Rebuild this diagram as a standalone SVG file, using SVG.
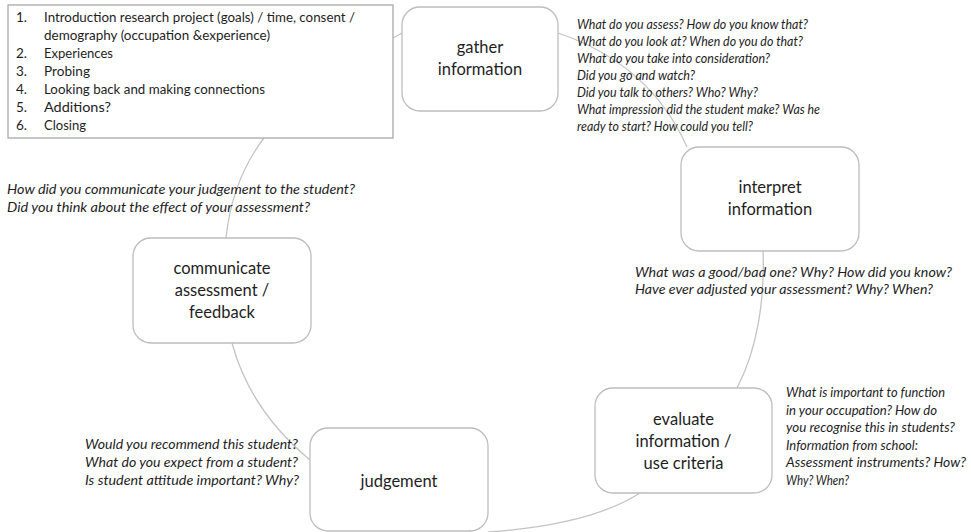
<svg xmlns="http://www.w3.org/2000/svg" width="971" height="532" viewBox="0 0 971 532">
<style>
.bg{fill:#ffffff}
.conn{fill:none;stroke:#c4c4c4;stroke-width:1.3}
.node{fill:#ffffff;stroke:#bdbdbd;stroke-width:1.3}
.list{fill:#ffffff;stroke:#a8a8a8;stroke-width:1.3}
.lbl{font-family:Lato,"Liberation Sans",sans-serif;font-size:16.5px;fill:#1e1e1e;text-anchor:middle}
.li{font-family:Lato,"Liberation Sans",sans-serif;font-size:13.5px;fill:#1e1e1e}
.q{font-family:Lato,"Liberation Sans",sans-serif;font-size:13.2px;font-style:italic;fill:#1e1e1e}
</style>
<rect class="bg" x="0" y="0" width="971" height="532"/>
<g id="connectors">
  <path class="conn" d="M393,38 L402,33"/>
  <path class="conn" d="M558,33 Q650,64 687,147"/>
  <path class="conn" d="M763,251 C765,300 757,350 737,388"/>
  <path class="conn" d="M640,493 Q590,525 488,532"/>
  <path class="conn" d="M310,460 Q250,410 232,343"/>
  <path class="conn" d="M226,238 Q232,180 264,138"/>
</g>
<g id="node-outline">
  <rect class="list" x="8" y="5" width="385" height="133"/>
  <text class="li" x="16" y="22">1.</text>
  <text class="li" x="44" y="22" textLength="311" lengthAdjust="spacingAndGlyphs">Introduction research project (goals) / time, consent /</text>
  <text class="li" x="44" y="40" textLength="226" lengthAdjust="spacingAndGlyphs">demography (occupation &amp;experience)</text>
  <text class="li" x="16" y="58">2.</text>
  <text class="li" x="44" y="58" textLength="69" lengthAdjust="spacingAndGlyphs">Experiences</text>
  <text class="li" x="16" y="76">3.</text>
  <text class="li" x="44" y="76" textLength="46" lengthAdjust="spacingAndGlyphs">Probing</text>
  <text class="li" x="16" y="94">4.</text>
  <text class="li" x="44" y="94" textLength="221" lengthAdjust="spacingAndGlyphs">Looking back and making connections</text>
  <text class="li" x="16" y="112">5.</text>
  <text class="li" x="44" y="112" textLength="67" lengthAdjust="spacingAndGlyphs">Additions?</text>
  <text class="li" x="16" y="130">6.</text>
  <text class="li" x="44" y="130" textLength="42" lengthAdjust="spacingAndGlyphs">Closing</text>
</g>
<g id="node-gather">
  <rect class="node" x="402" y="7" width="156" height="104" rx="18"/>
  <text class="lbl" x="480" y="53">gather</text>
  <text class="lbl" x="480" y="75">information</text>
</g>
<g id="node-interpret">
  <rect class="node" x="681" y="147" width="178" height="104" rx="18"/>
  <text class="lbl" x="770" y="193">interpret</text>
  <text class="lbl" x="770" y="215">information</text>
</g>
<g id="node-evaluate">
  <rect class="node" x="595" y="388" width="177" height="105" rx="18"/>
  <text class="lbl" x="683.5" y="425">evaluate</text>
  <text class="lbl" x="683.5" y="447">information /</text>
  <text class="lbl" x="683.5" y="469">use criteria</text>
</g>
<g id="node-judgement">
  <rect class="node" x="310" y="428" width="178" height="103" rx="18"/>
  <text class="lbl" x="399" y="487">judgement</text>
</g>
<g id="node-communicate">
  <rect class="node" x="133" y="238" width="178" height="105" rx="18"/>
  <text class="lbl" x="222" y="274">communicate</text>
  <text class="lbl" x="222" y="296">assessment /</text>
  <text class="lbl" x="222" y="318">feedback</text>
</g>
<g id="q-gather">
  <text class="q" x="577" y="29" textLength="231" lengthAdjust="spacingAndGlyphs">What do you assess? How do you know that?</text>
  <text class="q" x="577" y="46" textLength="226" lengthAdjust="spacingAndGlyphs">What do you look at? When do you do that?</text>
  <text class="q" x="577" y="63" textLength="193" lengthAdjust="spacingAndGlyphs">What do you take into consideration?</text>
  <text class="q" x="577" y="80" textLength="118" lengthAdjust="spacingAndGlyphs">Did you go and watch?</text>
  <text class="q" x="577" y="97" textLength="181" lengthAdjust="spacingAndGlyphs">Did you talk to others? Who? Why?</text>
  <text class="q" x="577" y="114" textLength="243" lengthAdjust="spacingAndGlyphs">What impression did the student make? Was he</text>
  <text class="q" x="577" y="131" textLength="176" lengthAdjust="spacingAndGlyphs">ready to start? How could you tell?</text>
</g>
<g id="q-interpret">
  <text class="q" x="635" y="277" textLength="317" lengthAdjust="spacingAndGlyphs">What was a good/bad one? Why? How did you know?</text>
  <text class="q" x="635" y="294" textLength="298" lengthAdjust="spacingAndGlyphs">Have ever adjusted your assessment? Why? When?</text>
</g>
<g id="q-evaluate">
  <text class="q" x="786" y="397" textLength="159" lengthAdjust="spacingAndGlyphs">What is important to function</text>
  <text class="q" x="786" y="414.5" textLength="151" lengthAdjust="spacingAndGlyphs">in your occupation? How do</text>
  <text class="q" x="786" y="432" textLength="169" lengthAdjust="spacingAndGlyphs">you recognise this in students?</text>
  <text class="q" x="786" y="449.5" textLength="132" lengthAdjust="spacingAndGlyphs">Information from school:</text>
  <text class="q" x="786" y="467" textLength="180" lengthAdjust="spacingAndGlyphs">Assessment instruments? How?</text>
  <text class="q" x="786" y="484.5" textLength="63" lengthAdjust="spacingAndGlyphs">Why? When?</text>
</g>
<g id="q-judgement">
  <text class="q" x="85" y="449" textLength="213" lengthAdjust="spacingAndGlyphs">Would you recommend this student?</text>
  <text class="q" x="85" y="467" textLength="213" lengthAdjust="spacingAndGlyphs">What do you expect from a student?</text>
  <text class="q" x="85" y="485" textLength="214" lengthAdjust="spacingAndGlyphs">Is student attitude important? Why?</text>
</g>
<g id="q-communicate">
  <text class="q" x="7" y="194" textLength="348" lengthAdjust="spacingAndGlyphs">How did you communicate your judgement to the student?</text>
  <text class="q" x="7" y="212" textLength="303" lengthAdjust="spacingAndGlyphs">Did you think about the effect of your assessment?</text>
</g>
</svg>
